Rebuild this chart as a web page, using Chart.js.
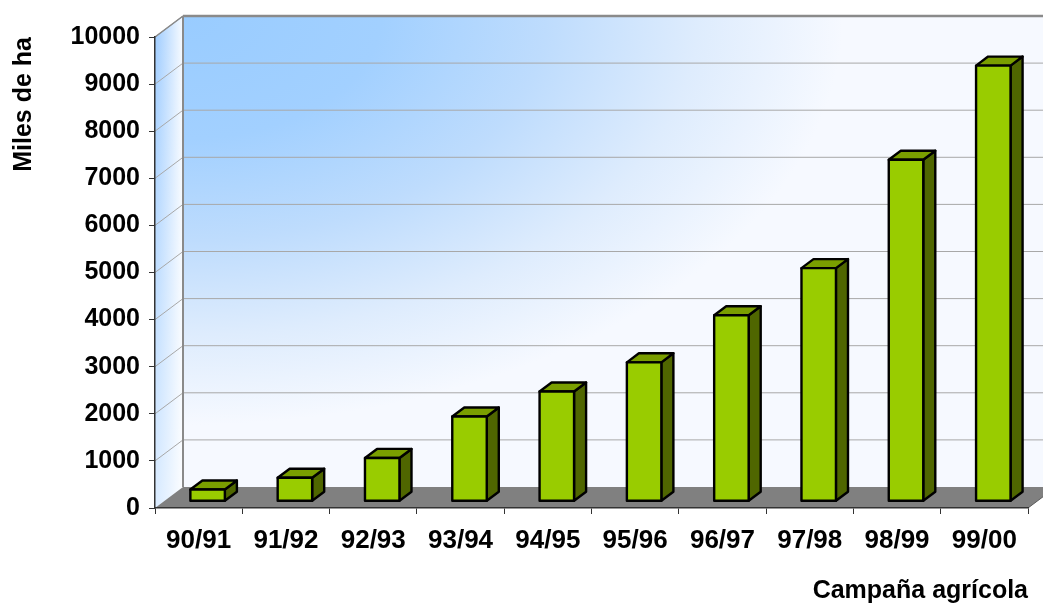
<!DOCTYPE html>
<html><head><meta charset="utf-8">
<script src="https://cdn.jsdelivr.net/npm/chart.js@4.4.1/dist/chart.umd.min.js"></script>
<style>html,body{margin:0;padding:0;background:#fff;} canvas{display:block;}</style>
</head><body>
<canvas id="c" width="1043" height="604"></canvas>
<script>
const categories = ['90/91','91/92','92/93','93/94','94/95','95/96','96/97','97/98','98/99','99/00'];
const areaValues = [250, 500, 920, 1800, 2330, 2950, 3950, 4950, 7250, 9250];
const yTickValues = [0, 1000, 2000, 3000, 4000, 5000, 6000, 7000, 8000, 9000, 10000];
const yAxisTitle = 'Miles de ha';
const xAxisTitle = 'Campaña agrícola';

const DEPTH_X = 28, DEPTH_Y = 21;
const BAR_FRONT = 0.32, BAR_BACK = 0.75;
const FONT = '"Liberation Sans", Arial, sans-serif';

function poly(ctx, pts, fill, stroke) {
  ctx.beginPath();
  ctx.moveTo(pts[0][0], pts[0][1]);
  for (let i = 1; i < pts.length; i++) ctx.lineTo(pts[i][0], pts[i][1]);
  ctx.closePath();
  if (fill) { ctx.fillStyle = fill; ctx.fill(); }
  if (stroke) ctx.stroke();
}

const wall3d = {
  id: 'wall3d',
  beforeDraw(chart) {
    const {ctx, chartArea: a, scales: {y}} = chart;
    const W = chart.width;
    const bl = a.left + DEPTH_X, bt = a.top - DEPTH_Y, bb = a.bottom - DEPTH_Y;
    ctx.save();
    // side wall
    let g = ctx.createLinearGradient(a.left, 0, bl, 0);
    g.addColorStop(0, 'rgb(160,205,255)');
    g.addColorStop(0.45, 'rgb(198,225,255)');
    g.addColorStop(1, 'rgb(248,251,255)');
    poly(ctx, [[a.left, a.top], [bl, bt], [bl, bb], [a.left, a.bottom]], g);
    let gv = ctx.createLinearGradient(0, a.top, 0, a.bottom);
    gv.addColorStop(0, 'rgba(255,255,255,0)');
    gv.addColorStop(1, 'rgba(255,255,255,0.6)');
    poly(ctx, [[a.left, a.top], [bl, bt], [bl, bb], [a.left, a.bottom]], gv);
    // back wall: elliptical radial gradient from top-left corner
    ctx.save();
    ctx.beginPath(); ctx.rect(bl, bt, W - bl, bb - bt); ctx.clip();
    ctx.translate(bl, bt);
    const sy = 0.62;
    ctx.scale(1, sy);
    g = ctx.createRadialGradient(0, 0, 0, 0, 0, 660);
    g.addColorStop(0, 'rgb(153,204,255)');
    g.addColorStop(0.3, 'rgb(162,208,255)');
    g.addColorStop(0.55, 'rgb(190,220,253)');
    g.addColorStop(0.78, 'rgb(222,236,253)');
    g.addColorStop(1, 'rgb(246,249,255)');
    ctx.fillStyle = g;
    ctx.fillRect(0, 0, W - bl, (bb - bt) / sy);
    ctx.restore();
    // grid lines
    yTickValues.forEach(v => {
      if (v === 0) return;
      const py = y.getPixelForValue(v);
      ctx.lineWidth = 1;
      ctx.strokeStyle = v === 10000 ? '#8a8a8a' : '#a8a8a8';
      ctx.beginPath();
      ctx.moveTo(a.left, py); ctx.lineTo(bl, py - DEPTH_Y);
      ctx.stroke();
      ctx.lineWidth = v === 10000 ? 2.5 : 1;
      ctx.beginPath();
      ctx.moveTo(bl, py - DEPTH_Y); ctx.lineTo(W, py - DEPTH_Y);
      ctx.stroke();
    });
    // back-left edge
    ctx.strokeStyle = '#8a8a8a'; ctx.lineWidth = 2;
    ctx.beginPath(); ctx.moveTo(bl, bt); ctx.lineTo(bl, bb); ctx.stroke();
    ctx.lineWidth = 1.5;
    ctx.beginPath(); ctx.moveTo(a.left, a.top); ctx.lineTo(bl, bt); ctx.stroke();
    // floor
    poly(ctx, [[a.left, a.bottom], [bl, bb], [W + 40, bb], [a.right + DEPTH_X, bb], [a.right, a.bottom]], '#808080');
    ctx.strokeStyle = '#5a5a5a'; ctx.lineWidth = 1;
    ctx.beginPath(); ctx.moveTo(a.right, a.bottom); ctx.lineTo(a.right + DEPTH_X, bb); ctx.stroke();
    ctx.restore();
  }
};

const bars3d = {
  id: 'bars3d',
  afterDatasetsDraw(chart) {
    const {ctx} = chart;
    const meta = chart.getDatasetMeta(0);
    const fx = DEPTH_X * BAR_FRONT, fy = DEPTH_Y * BAR_FRONT;
    const dx = DEPTH_X * (BAR_BACK - BAR_FRONT), dy = DEPTH_Y * (BAR_BACK - BAR_FRONT);
    ctx.save();
    ctx.lineWidth = 2.4; ctx.lineJoin = 'round'; ctx.strokeStyle = '#000';
    meta.data.forEach(el => {
      const {x, y, base, width} = el.getProps(['x', 'y', 'base', 'width'], true);
      const L = x - width / 2 + fx, R = x + width / 2 + fx, T = y - fy, B = base - fy;
      poly(ctx, [[R, T], [R + dx, T - dy], [R + dx, B - dy], [R, B]], '#4F6600', true);
      poly(ctx, [[L, T], [L + dx, T - dy], [R + dx, T - dy], [R, T]], '#7A9E00', true);
      poly(ctx, [[L, T], [R, T], [R, B], [L, B]], '#99CC00', true);
    });
    ctx.restore();
  }
};

new Chart(document.getElementById('c'), {
  type: 'bar',
  data: {
    labels: categories,
    datasets: [{
      data: areaValues,
      backgroundColor: 'rgba(0,0,0,0)',
      borderWidth: 0,
      categoryPercentage: 1,
      barPercentage: 0.395
    }]
  },
  options: {
    responsive: false,
    animation: false,
    devicePixelRatio: 1,
    layout: {padding: {top: 37, right: 15, left: 0, bottom: 0}},
    plugins: {legend: {display: false}, tooltip: {enabled: false}},
    scales: {
      x: {
        afterFit(s) { s.height = 96; },
        grid: {display: true, drawOnChartArea: false, drawTicks: true, tickLength: 6, color: '#333', offset: true},
        border: {display: true, color: '#333', width: 1.5},
        ticks: {color: '#000', padding: 11, font: {family: FONT, size: 26, weight: 'bold'}},
        title: {display: true, text: xAxisTitle, align: 'end', color: '#000',
                font: {family: FONT, size: 25, weight: 'bold', lineHeight: 1.0}, padding: {top: 0, bottom: 0}}
      },
      y: {
        min: 0, max: 10000,
        afterFit(s) { s.width = 155; },
        afterBuildTicks(s) { s.ticks = yTickValues.map(v => ({value: v})); },
        grid: {display: true, drawOnChartArea: false, drawTicks: true, tickLength: 6, color: '#333'},
        border: {display: true, color: '#333', width: 1.5},
        ticks: {color: '#000', padding: 9, font: {family: FONT, size: 25, weight: 'bold'}, callback: v => String(v)},
        title: {display: true, text: yAxisTitle, align: 'end', color: '#000',
                font: {family: FONT, size: 25, weight: 'bold', lineHeight: 1.0}, padding: {top: 12, bottom: 0}}
      }
    }
  },
  plugins: [wall3d, bars3d]
});
</script>
</body></html>
